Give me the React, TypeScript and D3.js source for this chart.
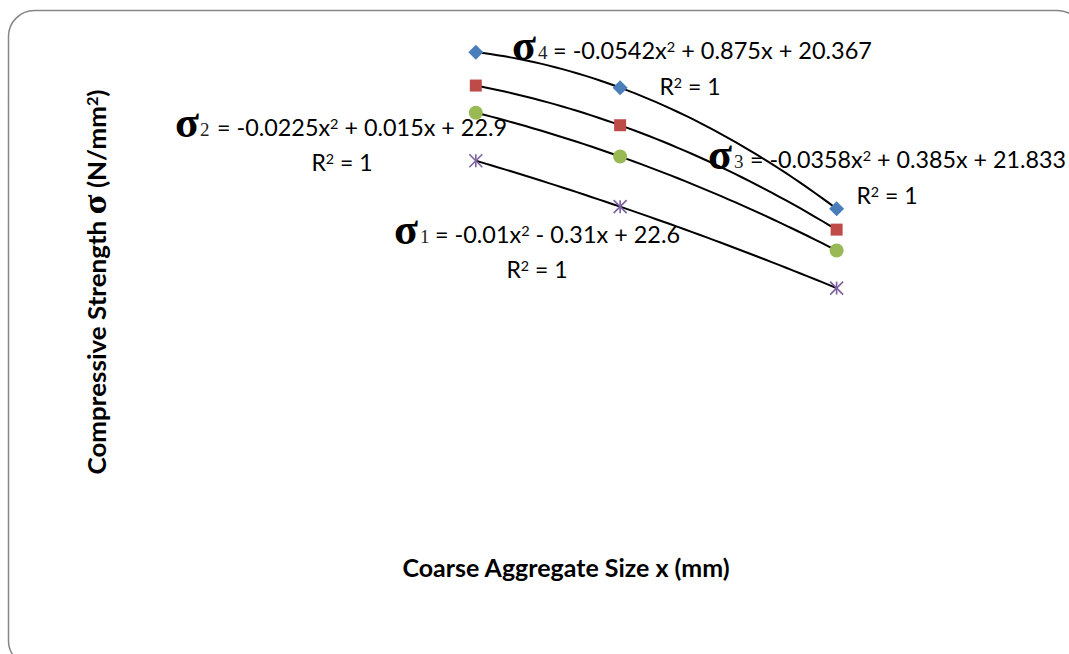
import React from "react";
import * as d3 from "d3";

// coarse aggregate size (mm) and compressive strength of the four mixes
const sizes = [10, 14, 20];
const sigma1 = [18.5, 16.3, 12.4];
const sigma2 = [20.8, 18.7, 14.2];
const sigma3 = [22.1, 20.2, 15.2];
const sigma4 = [23.7, 22.0, 16.2];

const seriesNames = ["1", "2", "3", "4"];
const equations = [
  "= -0.01x² - 0.31x + 22.6",
  "= -0.0225x² + 0.015x + 22.9",
  "= -0.0358x² + 0.385x + 21.833",
  "= -0.0542x² + 0.875x + 20.367",
];
const rSquared = ["R² = 1", "R² = 1", "R² = 1", "R² = 1"];

const colors = ["#7D60A0", "#98B954", "#BE4B48", "#4A7EBB"];
const markers = ["star", "circle", "square", "diamond"];

// label layout: sigma x, subscript x, equation x, equation end, baseline, R² centre, R² baseline
const labelLayout = [
  [394, 420, 435, 680, 243, 537, 278],
  [175, 200, 217, 507, 136, 342, 171],
  [708, 734, 750, 1066, 168, 887, 204],
  [512, 538, 553, 872, 59, 690, 95],
];

const W = 1069;
const H = 654;
const plot = { left: 115, right: 1017, top: 25, bottom: 547 };

const x = d3.scaleLinear().domain([0, 25]).range([plot.left, plot.right]);
const y = d3.scaleLinear().domain([0, 25]).range([plot.bottom, plot.top]);

const sans = "Lato, 'Open Sans', sans-serif";
const serif = "'Liberation Serif', 'DejaVu Serif', serif";

// polynomial (order 2) trendline through the points
function quadFit(xs: number[], ys: number[]) {
  return (t: number) => {
    let s = 0;
    for (let i = 0; i < xs.length; i++) {
      let p = ys[i];
      for (let j = 0; j < xs.length; j++) {
        if (j !== i) p *= (t - xs[j]) / (xs[i] - xs[j]);
      }
      s += p;
    }
    return s;
  };
}

// render "²" as a raised smaller 2
function withSup(s: string, size: number) {
  const parts = s.split("²");
  const shift = size * 0.32;
  const out: React.ReactNode[] = [];
  parts.forEach((p, i) => {
    out.push(
      <tspan key={"p" + i} dy={i > 0 ? shift : undefined}>
        {p}
      </tspan>
    );
    if (i < parts.length - 1) {
      out.push(
        <tspan key={"s" + i} fontSize={size * 0.62} dy={-shift}>
          2
        </tspan>
      );
    }
  });
  return out;
}

function Marker({ type, cx, cy, color }: { type: string; cx: number; cy: number; color: string }) {
  if (type === "diamond") {
    const r = 7.5;
    return <path d={`M${cx},${cy - r}L${cx + r},${cy}L${cx},${cy + r}L${cx - r},${cy}Z`} fill={color} />;
  }
  if (type === "square") {
    return <rect x={cx - 6} y={cy - 6} width={12} height={12} fill={color} />;
  }
  if (type === "circle") {
    return <circle cx={cx} cy={cy} r={7} fill={color} />;
  }
  const r = 6.5;
  return (
    <g stroke={color} strokeWidth={1.6}>
      <line x1={cx - r} y1={cy - r} x2={cx + r} y2={cy + r} />
      <line x1={cx - r} y1={cy + r} x2={cx + r} y2={cy - r} />
      <line x1={cx} y1={cy - r} x2={cx} y2={cy + r} />
    </g>
  );
}

export default function App() {
  const allSeries = [sigma1, sigma2, sigma3, sigma4];
  const line = d3
    .line<number[]>()
    .x((d) => x(d[0]))
    .y((d) => y(d[1]));
  const fs = 23;

  return (
    <svg width={W} height={H} style={{ position: "absolute", left: 0, top: 0 }}>
      <rect x={8.5} y={10.5} width={1075} height={656} rx={26} fill="#fff" stroke="#868686" strokeWidth={1.5} />

      {allSeries.map((vals, i) => {
        const f = quadFit(sizes, vals);
        const pts = d3.range(0, 51).map((k) => {
          const t = sizes[0] + ((sizes[sizes.length - 1] - sizes[0]) * k) / 50;
          return [t, f(t)];
        });
        return <path key={"t" + i} d={line(pts) || ""} fill="none" stroke="#000" strokeWidth={2} />;
      })}

      {allSeries.map((vals, i) =>
        vals.map((v, k) => (
          <Marker key={`m${i}-${k}`} type={markers[i]} cx={x(sizes[k])} cy={y(v)} color={colors[i]} />
        ))
      )}

      {equations.map((eq, i) => {
        const [sx, subx, ex, eEnd, base, rc, rb] = labelLayout[i];
        return (
          <g key={"l" + i} fill="#000">
            <text x={sx} y={base + 1} fontFamily={serif} fontSize={44} fontWeight="bold">
              σ
            </text>
            <text x={subx} y={base} fontFamily={serif} fontSize={19} fill="#222">
              {seriesNames[i]}
            </text>
            <text x={ex} y={base} fontFamily={sans} fontSize={fs} textLength={eEnd - ex} lengthAdjust="spacingAndGlyphs">
              {withSup(eq, fs)}
            </text>
            <text x={rc} y={rb} textAnchor="middle" fontFamily={sans} fontSize={fs}>
              {withSup(rSquared[i], fs)}
            </text>
          </g>
        );
      })}

      <text
        transform={`translate(106,${282}) rotate(-90)`}
        textAnchor="middle"
        fontFamily={sans}
        fontSize={24}
        fontWeight="bold"
        fill="#000"
        textLength={385}
        lengthAdjust="spacingAndGlyphs"
      >
        Compressive Strength{" "}
        <tspan fontFamily={serif} fontSize={34}>σ</tspan> (N/mm
        <tspan fontSize={15} dy={-8}>2</tspan>
        <tspan dy={8}>)</tspan>
      </text>
      <text
        x={566}
        y={577}
        textAnchor="middle"
        fontFamily={sans}
        fontSize={24}
        fontWeight="bold"
        fill="#000"
        textLength={327}
        lengthAdjust="spacingAndGlyphs"
      >
        Coarse Aggregate Size x (mm)
      </text>
    </svg>
  );
}
